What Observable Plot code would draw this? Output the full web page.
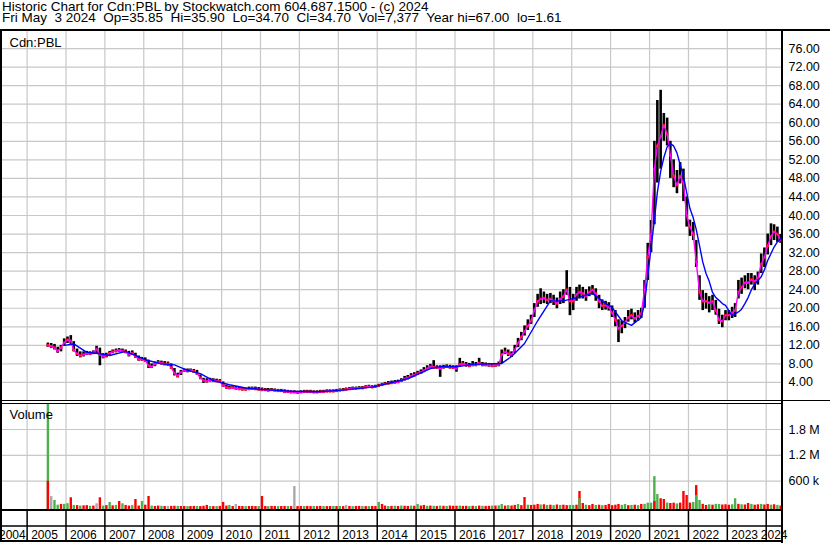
<!DOCTYPE html>
<html><head><meta charset="utf-8">
<script src="https://cdn.jsdelivr.net/npm/d3@7"></script>
<script src="https://cdn.jsdelivr.net/npm/@observablehq/plot@0.6"></script>
<style>
html,body{margin:0;padding:0;background:#fff;}
#chart{position:relative;width:830px;height:543px;overflow:hidden;font-family:"Liberation Sans",Arial,sans-serif;color:#000;background:#fff;}
#chart svg{position:absolute;left:0;top:0;}
.t{position:absolute;left:2px;top:0.8px;font-size:13.5px;white-space:pre;line-height:11px;}
.b{position:absolute;background:#000;}
</style></head><body>
<div id="chart">
<div class="t">Historic Chart for Cdn:PBL by Stockwatch.com 604.687.1500 - (c) 2024
Fri May  3 2024  Op=35.85  Hi=35.90  Lo=34.70  Cl=34.70  Vol=7,377  Year hi=67.00  lo=1.61</div>
</div>
<script>
// ---------- data (monthly, Jul 2005 .. May 2024) ----------
const firstMonth = "2005-07-15";
const closes = [
 12.0,11.8,11.5,10.8,11.5,12.6,
 13.2,13.0,11.0,10.2,9.8,10.0,10.2,10.2,10.4,11.2,10.0,9.6,
 9.8,10.3,10.6,10.8,10.9,10.8,10.6,10.0,10.3,9.6,9.0,9.0,
 8.8,7.6,7.4,8.0,8.3,8.2,8.0,8.0,7.2,6.0,5.4,6.2,
 6.6,6.5,6.6,6.4,6.0,5.0,4.4,4.3,4.5,4.4,4.3,4.2,
 3.4,2.9,2.8,2.9,2.7,2.6,2.5,2.5,2.6,2.7,2.6,2.5,
 2.4,2.4,2.3,2.4,2.3,2.2,2.2,2.0,2.0,1.9,1.9,1.8,
 1.9,2.0,2.0,2.0,1.9,1.9,2.0,2.0,2.1,2.1,2.1,2.2,
 2.3,2.4,2.5,2.6,2.7,2.7,2.8,2.8,3.0,3.1,3.0,3.1,
 3.3,3.5,3.7,3.8,3.9,4.0,4.1,4.4,4.8,5.0,5.4,5.6,
 5.9,6.2,6.6,7.0,7.4,7.3,7.2,7.0,7.3,7.4,7.3,7.2,
 7.0,7.9,8.0,7.8,7.6,7.8,7.8,8.2,7.8,7.8,7.7,7.6,
 7.7,7.8,10.0,10.6,10.2,10.0,11.0,12.5,13.8,15.0,16.2,17.3,
 19.5,21.5,22.0,22.2,21.8,22.0,21.6,21.0,22.0,22.5,24.0,21.5,
 21.5,23.0,23.5,23.2,22.6,23.5,24.0,23.2,21.5,20.5,20.6,20.3,
 19.0,17.5,15.5,16.2,17.0,18.0,18.5,17.8,18.3,18.8,24.0,31.0,
 36.0,50.0,55.0,57.0,59.5,57.5,53.0,48.5,46.5,48.5,47.0,40.0,
 37.5,36.0,30.0,23.5,21.5,21.5,21.2,21.5,19.5,17.5,17.2,18.5,
 18.5,19.0,19.5,23.5,24.5,25.5,25.5,26.2,25.8,26.5,29.5,31.0,
 33.5,35.5,36.5,36.0,34.7
];
const highs = [
 12.5,12.4,12.2,11.6,12.0,13.4,
 13.8,14.1,12.8,11.2,10.6,10.6,10.7,10.6,10.8,11.8,11.4,10.2,
 10.3,10.7,11.0,11.2,11.3,11.2,11.0,10.7,10.8,10.3,9.7,9.4,
 9.3,8.8,8.0,8.4,8.7,8.6,8.5,8.4,8.0,7.0,6.0,6.6,
 6.9,6.9,6.9,6.8,6.6,5.6,4.9,4.8,4.9,4.8,4.7,4.6,
 4.1,3.4,3.2,3.3,3.1,3.0,2.9,2.8,3.0,3.0,3.0,2.9,
 2.8,2.7,2.7,2.7,2.6,2.5,2.5,2.4,2.3,2.2,2.2,2.1,
 2.2,2.3,2.3,2.3,2.2,2.2,2.3,2.3,2.4,2.4,2.4,2.5,
 2.6,2.7,2.8,2.9,3.0,3.0,3.1,3.1,3.3,3.4,3.3,3.4,
 3.6,3.8,4.0,4.2,4.3,4.4,4.5,4.8,5.3,5.5,5.9,6.1,
 6.4,6.7,7.2,7.6,7.9,8.7,7.6,7.6,7.7,7.8,7.7,7.6,
 7.6,9.2,8.5,8.3,8.1,8.5,8.3,9.2,8.3,8.2,8.1,8.0,
 8.1,8.4,11.0,11.4,11.0,10.6,12.0,13.5,14.8,16.2,17.5,18.5,
 21.0,23.0,24.2,23.5,23.0,23.2,22.8,22.2,23.5,24.0,28.1,24.5,
 23.0,24.5,25.0,24.5,24.0,24.6,24.9,24.2,22.8,21.8,21.5,21.2,
 20.5,19.5,17.5,17.2,18.0,19.5,19.8,19.0,19.5,20.0,26.0,34.0,
 38.9,56.0,64.8,67.0,62.0,61.0,56.0,52.0,49.7,51.4,50.0,44.0,
 39.0,38.5,34.6,27.0,23.8,23.2,22.5,22.8,21.7,19.8,18.5,19.5,
 19.5,20.2,21.0,26.0,26.5,27.0,27.5,27.5,27.0,27.8,31.7,33.0,
 36.0,38.2,38.0,37.5,35.9
];
const lows = [
 11.6,11.3,11.0,10.3,10.6,11.8,
 12.4,12.2,10.6,9.6,9.3,9.5,9.8,9.8,10.0,10.2,7.6,9.1,
 9.3,9.8,10.2,10.4,10.5,10.4,10.2,9.5,9.8,9.2,8.6,8.6,
 8.4,7.0,7.0,7.4,7.9,7.8,7.6,7.5,6.8,5.4,5.0,5.5,
 6.2,6.1,6.2,6.0,5.6,4.6,3.8,3.9,4.1,4.0,4.0,3.9,
 3.0,2.6,2.5,2.6,2.4,2.3,2.2,2.2,2.3,2.4,2.3,2.2,
 2.1,2.1,2.0,2.1,2.0,1.9,1.9,1.7,1.7,1.6,1.6,1.6,
 1.7,1.7,1.8,1.7,1.7,1.7,1.8,1.8,1.8,1.9,1.9,1.9,
 2.1,2.2,2.3,2.4,2.5,2.5,2.6,2.6,2.7,2.8,2.8,2.9,
 3.0,3.2,3.4,3.5,3.6,3.7,3.8,4.0,4.3,4.6,5.0,5.2,
 5.5,5.8,6.1,6.6,7.0,6.9,6.8,5.1,6.9,7.0,6.9,6.8,
 6.2,7.3,7.6,7.3,7.2,7.4,7.4,7.6,7.4,7.4,7.3,7.2,
 7.3,7.4,8.0,10.0,9.6,9.4,10.2,11.5,13.0,14.0,15.2,16.5,
 18.0,20.2,20.8,21.0,20.8,21.0,20.6,19.9,20.8,21.0,22.8,18.4,
 19.5,21.5,22.0,22.0,21.5,22.5,22.8,21.5,19.9,19.5,19.6,19.4,
 18.0,16.0,12.6,14.5,15.6,17.0,17.5,16.8,17.2,17.8,20.0,26.0,
 32.0,38.0,47.0,50.0,56.0,55.0,48.0,46.0,44.7,46.8,43.0,37.5,
 35.5,34.6,28.8,21.7,19.5,19.8,19.0,19.5,18.5,16.5,15.8,17.3,
 17.3,17.8,18.0,22.0,23.0,24.2,24.0,25.0,23.8,25.0,27.5,28.8,
 31.5,33.5,34.6,34.2,34.0
];
// volume, thousands of shares per month (tallest daily bar), colour code r/g/k
const volumes = [
 3000,240,150,40,58,60,
 75,212,35,30,20,25,30,15,20,73,212,20,
 30,104,25,35,127,73,35,20,30,173,20,127,
 40,243,20,12,20,15,10,12,12,15,12,10,
 10,8,10,12,10,8,15,35,10,8,10,12,
 104,20,35,10,58,12,10,8,10,12,8,10,
 243,10,8,12,10,8,10,12,10,8,473,10,
 8,10,12,8,10,8,12,10,8,10,12,8,
 10,8,35,10,8,12,12,10,8,10,12,10,
 104,58,20,10,12,15,10,20,15,12,20,15,
 58,20,35,15,20,15,12,20,15,12,20,15,
 15,20,12,15,10,15,12,20,15,12,15,20,
 20,25,58,20,30,20,35,58,30,219,40,35,
 40,58,45,50,35,40,30,45,35,40,30,35,
 35,40,358,80,40,30,58,35,40,30,35,58,
 30,40,58,35,58,30,35,40,30,58,60,88,
 88,704,288,190,173,90,80,88,70,90,358,265,
 90,104,496,150,60,35,50,40,60,58,45,50,
 40,50,190,60,50,45,80,60,40,50,58,45,
 58,40,50,35,20
];
const volColours =
 "gkggrg" +
 "grgrgrrgrkrg" + "rgrgrgrrgrrg" + "rrgrrgrkrrgr" + "rgrrgrrrgrgr" +
 "rrgrkrrgrrrg" + "rrgrrgrrgrkr" + "rgrrgrrgrrgr" + "grkrgrrgrgrr" +
 "grrgrgrgrrgr" + "grrgrgrgrgrr" + "rgrrgrgrgrrg" + "rggrgrrgrrgr" +
 "rrgrgrgrgrrg" + "grrrgrrgrgrr" + "rrrggrgrgrgg" + "gggrrgrrgrrr" +
 "rgrgrrgrggrr" + "rggrgrrgrrgr" +
 "rgrgr";
// bars drawn over another bar in the same month
const volOverlayMonths = ["2005-07", "2019-03", "2021-02", "2022-03"];
const volOverlayValues = [596, 190, 127, 265];
const volOverlayColours = "rgrg";

// long (blue) moving average
const blueMonths = ["2005-12","2006-03","2006-07","2006-11","2007-02","2007-07","2008-01","2008-06","2008-10","2009-02","2009-06","2009-10","2010-03","2010-08","2011-03","2011-10","2012-06","2013-01","2013-11","2014-10","2015-05","2015-08","2016-01","2016-06","2017-03","2017-06","2017-10","2018-02","2018-06","2018-10","2019-03","2019-07","2019-11","2020-01","2020-04","2020-07","2020-10","2020-11","2020-12","2021-01","2021-02","2021-03","2021-04","2021-05","2021-06","2021-07","2021-08","2021-09","2021-10","2021-11","2021-12","2022-01","2022-02","2022-03","2022-04","2022-05","2022-06","2022-07","2022-08","2022-09","2022-10","2022-11","2022-12","2023-01","2023-02","2023-03","2023-04","2023-05","2023-06","2023-07","2023-08","2023-09","2023-10","2023-11","2023-12","2024-01","2024-02","2024-03","2024-04","2024-05"];
const blueValues = [12.0,12.3,10.5,10.2,9.8,10.7,8.9,8.0,7.8,6.6,5.9,4.4,3.5,2.8,2.4,2.1,2.0,2.3,3.0,4.8,7.0,7.4,7.4,7.9,8.1,9.6,12.4,17.3,21.6,21.6,22.4,23.2,21.0,20.2,17.3,16.3,18.0,21.0,27.0,33.0,39.0,45.0,49.5,52.5,54.8,55.5,55.0,53.5,51.0,48.5,45.0,41.5,39.5,37.0,33.5,30.0,27.5,25.8,23.4,22.3,21.7,21.0,20.6,19.5,18.4,18.8,19.2,19.8,21.0,22.3,24.0,25.2,26.0,26.8,28.3,30.3,31.8,33.2,34.3,35.0];

// axis ticks and labels
const years = [2005,2006,2007,2008,2009,2010,2011,2012,2013,2014,2015,2016,2017,2018,2019,2020,2021,2022,2023,2024];
const firstLabel = "2004";
const priceTicks = [4,8,12,16,20,24,28,32,36,40,44,48,52,56,60,64,68,72,76];
const volTicks = [600000, 1200000, 1800000];
const volTickLabels = ["600 k", "1.2 M", "1.8 M"];

// ---------- build tables ----------
const start = new Date(firstMonth);
const bars = closes.map((c, i) => ({date: d3.utcMonth.offset(start, i), close: c, high: highs[i], low: lows[i]}));
const colourOf = {r: "#ff0000", g: "#4cb04c", k: "#a9a9a9"};
const vols = volumes.map((v, i) => ({date: d3.utcMonth.offset(start, i), vol: v * 1000, colour: colourOf[volColours[i]]}));
const volOver = volOverlayMonths.map((m, i) => ({date: new Date(m + "-15"), vol: volOverlayValues[i] * 1000, colour: colourOf[volOverlayColours[i]]}));
const blue = blueMonths.map((m, i) => ({date: new Date(m + "-15"), v: blueValues[i]}));
const yearStarts = years.map(y => new Date(Date.UTC(y, 0, 1)));

const xDomain = [new Date("2004-04-26"), new Date("2024-06-02")];
const grid = "#c8c8c8";
const font = {background: "none", overflow: "visible", fontFamily: "'Liberation Sans', Arial, sans-serif", color: "#000"};
const W = 830, H = 543, plotRight = 48;

// ---------- price panel ----------
const price = Plot.plot({
  width: W, height: H,
  marginTop: 29.5, marginBottom: 142.5, marginLeft: 0, marginRight: plotRight,
  x: {type: "utc", domain: xDomain, axis: null},
  y: {domain: [0, 80], axis: null},
  style: {...font, fontSize: "12.5px"},
  marks: [
    Plot.ruleY(priceTicks, {stroke: grid, strokeWidth: 1.2}),
    Plot.ruleX(yearStarts, {stroke: grid, strokeWidth: 1.2}),
    Plot.ruleX(bars, {x: "date", y1: "low", y2: "high", stroke: "#000", strokeWidth: 2.6}),
    Plot.dot(bars, {x: "date", y: "close", symbol: "square", r: 1.5, fill: "#ff0000", stroke: null}),
    Plot.line(bars, {x: "date", y: "close", stroke: "#ff00ff", strokeWidth: 1.4}),
    Plot.line(blue, {x: "date", y: "v", stroke: "#0000ff", strokeWidth: 1.4}),
    Plot.text(priceTicks, {y: d => d, frameAnchor: "right", textAnchor: "start", dx: 6, text: d => d.toFixed(2), fill: "#000"}),
    Plot.text(["Cdn:PBL"], {frameAnchor: "top-left", textAnchor: "start", lineAnchor: "top", dx: 9, dy: 8, fontSize: 13, fill: "#000"})
  ]
});

// ---------- volume panel ----------
const volFloor = -60000, volTop = 2405000;
const volume = Plot.plot({
  width: W, height: H,
  marginTop: 403, marginBottom: 34, marginLeft: 0, marginRight: plotRight,
  x: {type: "utc", domain: xDomain, axis: null},
  y: {domain: [volFloor, volTop], axis: null},
  style: {...font, fontSize: "12.5px"},
  marks: [
    Plot.ruleY(volTicks, {stroke: grid, strokeWidth: 1.2}),
    Plot.ruleX(yearStarts, {stroke: grid, strokeWidth: 1.2}),
    Plot.ruleX(vols, {x: "date", y1: volFloor, y2: "vol", stroke: "colour", strokeWidth: 2.4, clip: true}),
    Plot.ruleX(volOver, {x: "date", y1: volFloor, y2: "vol", stroke: "colour", strokeWidth: 2.4, clip: true}),
    Plot.text(volTicks, {y: d => d, frameAnchor: "right", textAnchor: "start", dx: 6, text: (d, i) => volTickLabels[i], fill: "#000"}),
    Plot.text(["Volume"], {frameAnchor: "top-left", textAnchor: "start", lineAnchor: "top", dx: 9, dy: 6, fontSize: 13, fill: "#000"})
  ]
});

// ---------- time axis ----------
const axis = Plot.plot({
  width: W, height: H,
  marginTop: 510, marginBottom: 2, marginLeft: 0, marginRight: plotRight,
  x: {type: "utc", domain: xDomain, axis: null},
  y: {domain: [0, 2], axis: null},
  style: {...font, fontSize: "12px"},
  marks: [
    Plot.ruleX(yearStarts, {stroke: "#000", strokeWidth: 1.5}),
    Plot.ruleY([1], {stroke: "#000", strokeWidth: 1.5}),
    Plot.text(yearStarts.slice(0, -1), {x: d => d, y: 0.5, textAnchor: "start", dx: 4, dy: 1, text: d => String(d.getUTCFullYear()), fill: "#000"}),
    Plot.text([String(years[years.length - 1])], {frameAnchor: "right", y: 0.5, textAnchor: "end", dx: 5, dy: 1, fill: "#000"}),
    Plot.text([firstLabel], {frameAnchor: "left", y: 0.5, textAnchor: "start", dx: -1.5, dy: 1, fill: "#000"})
  ]
});

const chart = document.getElementById("chart");
chart.append(price, volume, axis);

// frame lines
function line(l, t, w, h) { const d = document.createElement("div"); d.className = "b"; Object.assign(d.style, {left: l + "px", top: t + "px", width: w + "px", height: h + "px"}); chart.append(d); }
line(0, 29, 830, 2);        // top border
line(0, 29, 2, 513);        // left border
line(0, 400, 830, 1);       // price / volume double line
line(0, 402.5, 782, 1);
line(781, 29, 2, 514);      // right axis line
line(0, 509, 782, 2);       // volume bottom
line(0, 540, 782, 2);       // bottom
</script>
</body></html>
